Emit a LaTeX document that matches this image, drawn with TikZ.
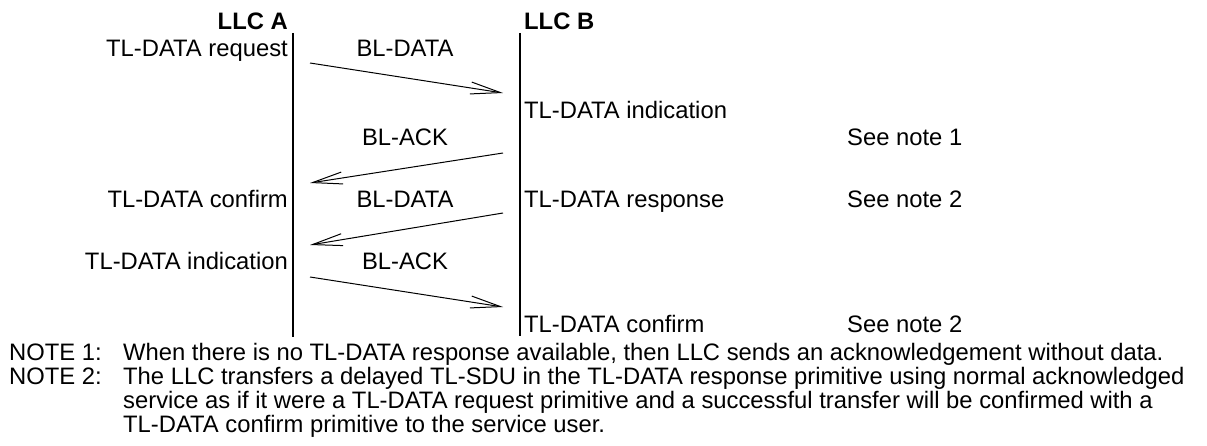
\documentclass[tikz,border=0pt]{standalone}
\usepackage{fontspec}
\setmainfont{Liberation Sans}
\usetikzlibrary{arrows.meta}
\begin{document}
\begin{tikzpicture}[x=1pt,y=-1pt,
  lbl/.style={inner sep=0pt,font=\fontsize{23.8}{24}\selectfont},
  hdr/.style={lbl,font=\fontsize{23.8}{24}\selectfont\bfseries},
  lifeline/.style={line width=2pt},
  msg/.style={line width=1pt,-{Straight Barb[length=30pt,width=12pt,line width=1pt]}}]
\useasboundingbox (0,0) rectangle (1207,446);
% headers
\node[hdr,anchor=base east] (llca) at (288,30) {LLC A};
\node[hdr,anchor=base west] (llcb) at (524,30) {LLC B};
% lifelines
\coordinate (at) at (293,33); \coordinate (ab) at (293,337);
\coordinate (bt) at (520,33); \coordinate (bb) at (520,336);
\draw[lifeline] (at) -- (ab);
\draw[lifeline] (bt) -- (bb);
% row labels
\node[lbl,anchor=base east] (req) at (288,57) {TL-DATA request};
\node[lbl,anchor=base] (m1) at (405,57) {BL-DATA};
\node[lbl,anchor=base west] (indb) at (524,119) {TL-DATA indication};
\node[lbl,anchor=base] (m2) at (405,146) {BL-ACK};
\node[lbl,anchor=base west] (n1) at (847,146) {See note 1};
\node[lbl,anchor=base east] (cfa) at (288,208) {TL-DATA confirm};
\node[lbl,anchor=base] (m3) at (405,208) {BL-DATA};
\node[lbl,anchor=base west] (rsp) at (524,208) {TL-DATA response};
\node[lbl,anchor=base west] (n2a) at (847,208) {See note 2};
\node[lbl,anchor=base east] (inda) at (288,270) {TL-DATA indication};
\node[lbl,anchor=base] (m4) at (405,270) {BL-ACK};
\node[lbl,anchor=base west] (cfb) at (524,332) {TL-DATA confirm};
\node[lbl,anchor=base west] (n2b) at (847,332) {See note 2};
% arrows
\coordinate (a1s) at (310,63);  \coordinate (a1e) at (503,93);
\coordinate (a2s) at (503,153); \coordinate (a2e) at (310,183);
\coordinate (a3s) at (503,213); \coordinate (a3e) at (310,245);
\coordinate (a4s) at (310,277); \coordinate (a4e) at (503,307);
\draw[msg] (a1s) -- (a1e);
\draw[msg] (a2s) -- (a2e);
\draw[msg] (a3s) -- (a3e);
\draw[msg] (a4s) -- (a4e);
% notes
\node[lbl,anchor=base west] (note1) at (9,360) {NOTE 1:};
\node[lbl,anchor=base west] (note1t) at (123,360) {When there is no TL-DATA response available, then LLC sends an acknowledgement without data.};
\node[lbl,anchor=base west] (note2) at (9,384) {NOTE 2:};
\node[lbl,anchor=base west] (note2a) at (123,384) {The LLC transfers a delayed TL-SDU in the TL-DATA response primitive using normal acknowledged};
\node[lbl,anchor=base west] (note2b) at (123,408) {service as if it were a TL-DATA request primitive and a successful transfer will be confirmed with a};
\node[lbl,anchor=base west] (note2c) at (123,432) {TL-DATA confirm primitive to the service user.};
\end{tikzpicture}
\end{document}
